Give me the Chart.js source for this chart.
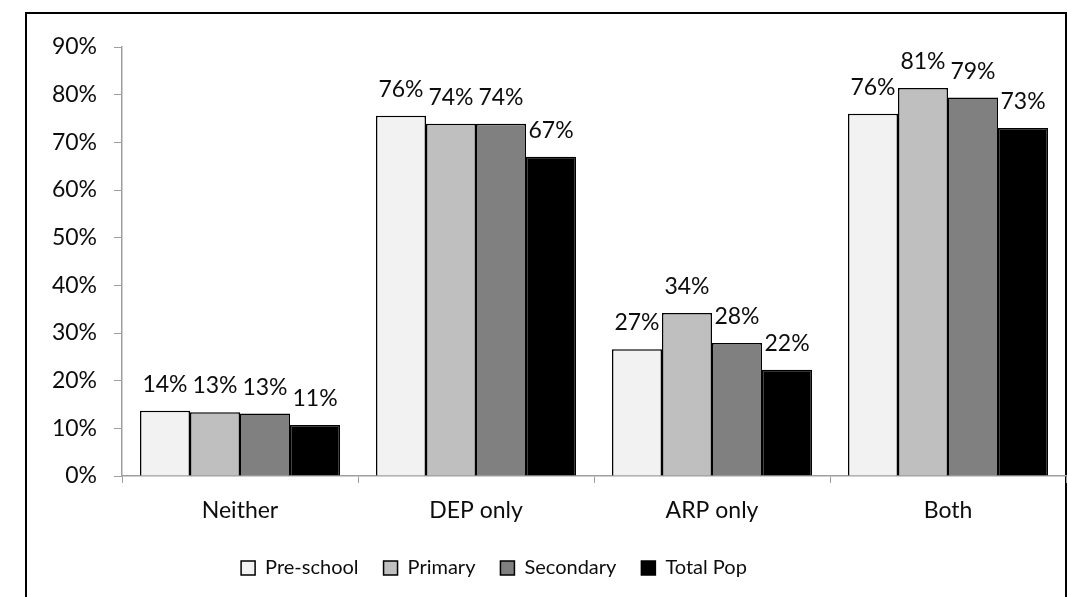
<!DOCTYPE html>
<html>
<head>
<meta charset="utf-8">
<script src="https://cdn.jsdelivr.net/npm/chart.js@4.4.1/dist/chart.umd.min.js"></script>
<style>
  html, body { margin: 0; padding: 0; background: #fff; overflow: hidden; }
  #wrap { position: relative; width: 1068px; height: 597px; overflow: hidden; }
  #frame { position: absolute; left: 25px; top: 12px; width: 1038px; height: 700px; border: 2px solid #000; box-sizing: content-box; }
  #c { position: absolute; left: 0; top: 0; }
</style>
</head>
<body>
<div id="wrap">
  <div id="frame"></div>
  <canvas id="c" width="1068" height="597"></canvas>
</div>
<script>
const categories = ['Neither', 'DEP only', 'ARP only', 'Both'];
const seriesNames = ['Pre-school', 'Primary', 'Secondary', 'Total Pop'];
const preSchool = [13.7, 75.6, 26.6, 76.0];
const primary   = [13.4, 73.9, 34.2, 81.4];
const secondary = [13.1, 73.9, 27.9, 79.4];
const totalPop  = [10.7, 67.0, 22.3, 73.0];
const seriesColors = ['#f2f2f2', '#bfbfbf', '#808080', '#000000'];
const yTicks = [0, 10, 20, 30, 40, 50, 60, 70, 80, 90];

const FONT = 'Lato';
const TEXT = '#0d0d0d';
const AXIS = '#9f9f9f';

const valueLabels = {
  id: 'valueLabels',
  afterDatasetsDraw(chart) {
    const ctx = chart.ctx;
    ctx.save();
    ctx.font = '23px ' + FONT;
    ctx.fillStyle = TEXT;
    ctx.textAlign = 'center';
    ctx.textBaseline = 'alphabetic';
    chart.data.datasets.forEach((ds, i) => {
      chart.getDatasetMeta(i).data.forEach((bar, j) => {
        ctx.fillText(Math.round(ds.data[j]) + '%', bar.x, bar.y - 19);
      });
    });
    ctx.restore();
  }
};

const legendShift = {
  id: 'legendShift',
  afterLayout(chart) {
    const lg = chart.legend;
    if (lg) { lg.left -= 39; lg.right -= 39; }
  }
};

const values = [preSchool, primary, secondary, totalPop];

new Chart(document.getElementById('c'), {
  type: 'bar',
  data: {
    labels: categories,
    datasets: seriesNames.map((name, i) => ({
      label: name,
      data: values[i],
      backgroundColor: seriesColors[i],
      borderColor: '#000',
      borderWidth: 1.5,
      categoryPercentage: 0.8475,
      barPercentage: 1.0
    }))
  },
  options: {
    responsive: false,
    animation: false,
    devicePixelRatio: 1,
    layout: { padding: { top: 47, left: 0, right: 2, bottom: 9 } },
    plugins: {
      tooltip: { enabled: false },
      legend: {
        position: 'bottom',
        labels: {
          font: { family: FONT, size: 20 },
          color: TEXT,
          boxWidth: 14,
          boxHeight: 14,
          padding: 25
        }
      }
    },
    scales: {
      x: {
        grid: { drawOnChartArea: false, drawTicks: true, tickLength: 7, color: AXIS, offset: true },
        border: { color: AXIS, width: 1.5 },
        ticks: { font: { family: FONT, size: 23 }, color: TEXT, padding: 14, maxRotation: 0 },
        afterFit(scale) { scale.height = 57; }
      },
      y: {
        min: 0,
        max: 90,
        afterBuildTicks(scale) { scale.ticks = yTicks.map(v => ({ value: v })); },
        grid: { drawOnChartArea: false, drawTicks: true, tickLength: 8, color: AXIS },
        border: { color: AXIS, width: 1.5 },
        ticks: { font: { family: FONT, size: 23 }, color: TEXT, padding: 17, callback: v => v + '%' },
        afterFit(scale) { scale.width = 122; }
      }
    }
  },
  plugins: [valueLabels, legendShift]
});
</script>
</body>
</html>
